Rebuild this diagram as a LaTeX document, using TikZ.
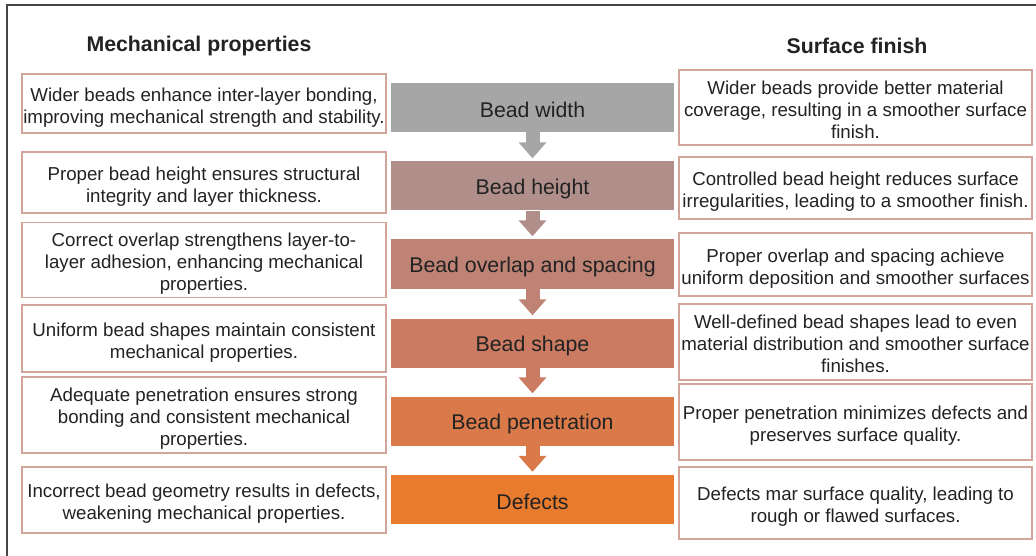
\documentclass[tikz,border=0pt]{standalone}
\usepackage{fontspec}
\setmainfont{Liberation Sans}
\usetikzlibrary{arrows.meta}
\definecolor{ink}{HTML}{222222}
\definecolor{boxline}{HTML}{D2A59B}
\definecolor{frameline}{HTML}{454545}
\definecolor{cwidth}{HTML}{A6A6A6}
\definecolor{cheight}{HTML}{B08F8B}
\definecolor{coverlap}{HTML}{BE8374}
\definecolor{cshape}{HTML}{CB7B62}
\definecolor{cpen}{HTML}{DA7A4B}
\definecolor{cdef}{HTML}{E97B2F}
\newcommand{\body}{\fontsize{18.7}{22}\selectfont}
\newcommand{\desc}[1]{\begin{tabular}{@{}c@{}}\rule{0pt}{24pt}#1\end{tabular}}

\begin{document}
\begin{tikzpicture}[x=1pt,y=-1pt]
  \tikzset{lbox/.style={draw=boxline, line width=1.1pt, text=ink, font=\body,
                        inner sep=0pt, minimum width=364pt, minimum height=#1},
           rbox/.style={lbox=#1, minimum width=353pt},
           stepbox/.style={fill=#1, text=ink, font=\fontsize{21.3}{24}\selectfont,
                           minimum width=283pt, minimum height=49pt, inner sep=0pt,
                           execute at begin node={\rule{0pt}{21pt}}},
           flow/.style={draw=#1, line width=14pt, -{Triangle[width=27pt,length=16pt]}, shorten >=3pt},
           head/.style={text=ink, font=\fontsize{21.3}{25}\selectfont\bfseries}}
  \useasboundingbox (0,0) rectangle (1036,556);
  \draw[frameline, line width=1.5pt] (7,556) -- (7,5) -- (1036,5);

  % column headings
  \node[head] (mechT) at (199,46) {Mechanical properties};
  \node[head] (surfT) at (857,46) {Surface finish};

  % middle column
  \node[stepbox=cwidth]   (widthC)   at (532.5,107.5) {Bead width};
  \node[stepbox=cheight]  (heightC)  at (532.5,186)   {Bead height};
  \node[stepbox=coverlap] (overlapC) at (532.5,264)   {Bead overlap and spacing};
  \node[stepbox=cshape]   (shapeC)   at (532.5,343)   {Bead shape};
  \node[stepbox=cpen]     (penC)     at (532.5,421)   {Bead penetration};
  \node[stepbox=cdef]     (defC)     at (532.5,499.5) {Defects};

  \draw[flow=cwidth]   (widthC)   -- (heightC);
  \draw[flow=cheight]  (heightC)  -- (overlapC);
  \draw[flow=coverlap] (overlapC) -- (shapeC);
  \draw[flow=cshape]   (shapeC)   -- (penC);
  \draw[flow=cpen]     (penC)     -- (defC);

  % mechanical side
  \node[lbox=59pt] (widthL)   at (204,103.5) {\desc{Wider beads enhance inter-layer bonding,\\improving mechanical strength and stability.}};
  \node[lbox=61pt] (heightL)  at (204,182.5) {\desc{Proper bead height ensures structural\\integrity and layer thickness.}};
  \node[lbox=72pt] (overlapL) at (204,260)   {\desc{Correct overlap strengthens layer-to-\\layer adhesion, enhancing mechanical\\properties.}};
  \node[lbox=67pt] (shapeL)   at (204,338.5) {\desc{Uniform bead shapes maintain consistent\\mechanical properties.}};
  \node[lbox=76pt] (penL)     at (204,415)   {\desc{Adequate penetration ensures strong\\bonding and consistent mechanical\\properties.}};
  \node[lbox=66pt] (defL)     at (204,500)   {\desc{Incorrect bead geometry results in defects,\\weakening mechanical properties.}};

  % surface side
  \node[rbox=75pt] (widthR)   at (855.5,107.5) {\desc{Wider beads provide better material\\coverage, resulting in a smoother surface\\finish.}};
  \node[rbox=62pt] (heightR)  at (855.5,188)   {\desc{Controlled bead height reduces surface\\irregularities, leading to a smoother finish.}};
  \node[rbox=63pt] (overlapR) at (855.5,264.5) {\desc{Proper overlap and spacing achieve\\uniform deposition and smoother surfaces}};
  \node[rbox=76pt] (shapeR)   at (855.5,342)   {\desc{Well-defined bead shapes lead to even\\material distribution and smoother surface\\finishes.}};
  \node[rbox=76pt] (penR)     at (855.5,422)   {\desc{Proper penetration minimizes defects and\\preserves surface quality.}};
  \node[rbox=72pt] (defR)     at (855.5,503)   {\desc{Defects mar surface quality, leading to\\rough or flawed surfaces.}};
\end{tikzpicture}
\end{document}
